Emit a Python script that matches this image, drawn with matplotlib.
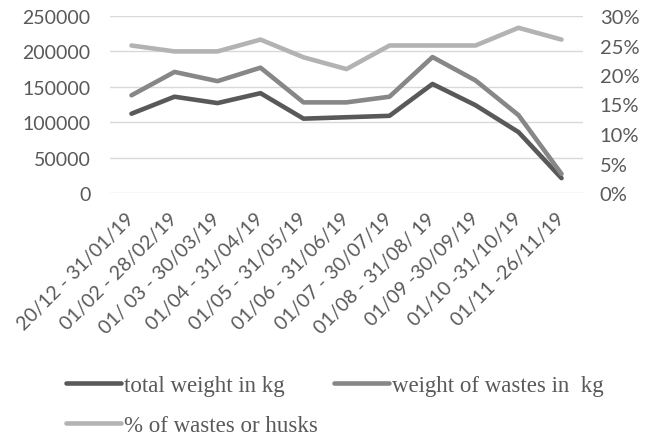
import matplotlib
matplotlib.use("Agg")
import matplotlib.pyplot as plt
from matplotlib.ticker import FuncFormatter, MultipleLocator
from matplotlib.lines import Line2D

periods = [
    "20/12 - 31/01/19", "01/02 - 28/02/19", "01/ 03 - 30/03/19",
    "01/04 - 31/04/19", "01/05 - 31/05/19", "01/06 - 31/06/19",
    "01/07 - 30/07/19", "01/08 - 31/08/ 19", "01/09 -30/09/19",
    "01/10 -31/10/19", "01/11 -26/11/19",
]
total_weight = [112000, 136000, 127000, 141000, 105000, 107000,
                109000, 154000, 124000, 86000, 21000]
waste_weight = [138000, 171000, 158000, 177000, 128000, 128000,
                136000, 192000, 159000, 110000, 27000]
waste_share = [0.25, 0.24, 0.24, 0.26, 0.23, 0.21,
               0.25, 0.25, 0.25, 0.28, 0.26]

series_names = ["total weight in kg", "weight of wastes in  kg",
                "% of wastes or husks"]
colors = ["#595959", "#878787", "#b3b3b3"]
text_color = "#595959"
tick_font = "Lato"
legend_font = "Liberation Serif"

W, H = 658, 439
fig = plt.figure(figsize=(W / 100, H / 100), dpi=100)
ax = fig.add_axes([110 / W, (H - 194) / H, 473 / W, 177 / H])
ax2 = ax.twinx()

x = list(range(len(periods)))
line_kw = dict(lw=3.3, solid_capstyle="round", solid_joinstyle="round")
ax.plot(x, total_weight, color=colors[0], zorder=3, **line_kw)
ax.plot(x, waste_weight, color=colors[1], zorder=4, **line_kw)
ax2.plot(x, waste_share, color=colors[2], zorder=3, **line_kw)

ax.set_xlim(-0.5, len(periods) - 0.5)
ax.set_ylim(0, 250000)
ax.yaxis.set_major_locator(MultipleLocator(50000))
ax2.set_ylim(0, 0.30)
ax2.yaxis.set_major_locator(MultipleLocator(0.05))
ax2.yaxis.set_major_formatter(FuncFormatter(lambda v, p: f"{round(v * 100)}%"))

ax.grid(axis="y", color="#d9d9d9", lw=1.0)
ax.set_axisbelow(True)
for a in (ax, ax2):
    for s in a.spines.values():
        s.set_visible(False)
    a.tick_params(length=0)

ax.tick_params(axis="y", pad=14, labelsize=14, labelcolor=text_color)
ax2.tick_params(axis="y", pad=12, labelsize=14.5, labelcolor=text_color)
for lab in ax.get_yticklabels() + ax2.get_yticklabels():
    lab.set_fontfamily(tick_font)

ax.set_xticks(x)
ax.set_xticklabels(periods, rotation=45, ha="right", va="center",
                   rotation_mode="anchor", fontsize=14, color=text_color,
                   fontfamily=tick_font)
ax.tick_params(axis="x", pad=16)

# legend fills column-wise, so order entries to read row-wise
order = [0, 2, 1]
handles = [Line2D([], [], color=colors[i], lw=3.3, solid_capstyle="round")
           for i in order]
labels = [series_names[i] for i in order]
leg = fig.legend(handles, labels, loc="upper left", ncol=2,
                 bbox_to_anchor=(45 / W, 1 - 355 / H), frameon=False,
                 handlelength=2.4, handletextpad=0.15, columnspacing=0.7,
                 labelspacing=0.85,
                 prop={"family": legend_font, "size": 16.5})
for t in leg.get_texts():
    t.set_color(text_color)

fig.savefig("out.png", dpi=100, facecolor="white")
